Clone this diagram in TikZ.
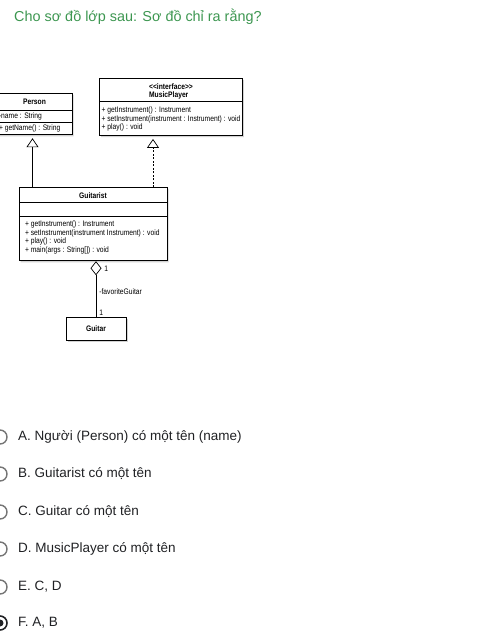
\documentclass[tikz,border=0pt]{standalone}
\usepackage{fontspec}
\setmainfont{Liberation Sans}
\newfontfamily\umlfont[FakeStretch=0.84]{Liberation Sans}
\usetikzlibrary{shapes.multipart,shadows,arrows.meta}
\definecolor{formgreen}{RGB}{60,150,80}
\definecolor{radiogray}{RGB}{117,117,117}
\definecolor{optext}{RGB}{32,33,36}
\newcommand{\tstrut}[1]{\rule{0pt}{#1pt}}
\newcommand{\bstrut}[1]{\rule[-#1pt]{0pt}{#1pt}}

\begin{document}
\begin{tikzpicture}[
        x                = 1pt,
        y                = -1pt,
        umlclass/.style  = {draw, fill=white, line width=0.8pt, rectangle split, rectangle split parts=3,
                            rectangle split part align={center,left,left}, align=left,
                            rectangle split empty part height=11pt,
                            font=\umlfont\fontsize{8}{8.5}\selectfont, inner xsep=2pt, inner ysep=1pt,
                            drop shadow={shadow xshift=1.5pt, shadow yshift=-1.5pt, fill=black!35}},
        umlbox/.style    = {draw, fill=white, line width=0.8pt, font=\umlfont\fontsize{8}{8.5}\selectfont,
                            drop shadow={shadow xshift=1.5pt, shadow yshift=-1.5pt, fill=black!35}},
        inherit/.style   = {draw, line width=0.7pt, shorten >=3pt, -{Triangle[open, length=9pt, width=12pt]}},
        realize/.style   = {inherit, dashed, dash pattern=on 2pt off 1.5pt},
        aggregate/.style = {draw, line width=0.7pt, -{Diamond[open, length=14pt, width=11pt]}},
        assoclabel/.style= {font=\umlfont\fontsize{8}{8.5}\selectfont, inner sep=1pt},
        radio/.style     = {draw=radiogray, line width=1.4pt},
        option/.style    = {anchor=west, text=optext, font=\fontsize{13.5}{16}\selectfont, inner sep=0pt}
    ]
    \useasboundingbox (0,0) rectangle (498,633);

    % question
    \node[anchor=west, text=formgreen, font=\fontsize{14.4}{17}\selectfont, inner sep=0pt] (question)
        at (14,17) {Cho sơ đồ lớp sau: Sơ đồ chỉ ra rằng?};

    % classes
    \node[umlclass, anchor=north, minimum width=75pt] (person) at (34.5,93)
        {\tstrut{10}\bstrut{4}\textbf{Person}
         \nodepart{two} \tstrut{7}\bstrut{2}-name : String
         \nodepart{three} \tstrut{7.5}\bstrut{2.5}+ getName() : String};
    \node[umlclass, anchor=north, minimum width=142pt, rectangle split parts=2] (musicplayer) at (171,78)
        {\fontsize{8}{7}\selectfont\tstrut{9.5}\textbf{<<interface>>}\\\bstrut{2.5}\textbf{MusicPlayer}
         \nodepart{two} \tstrut{9.5}+ getInstrument() : Instrument\\+ setInstrument(instrument : Instrument) : void\\
         \bstrut{4.5}+ play() : void};
    \node[umlclass, anchor=north, minimum width=148pt, inner xsep=6pt] (guitarist) at (93,187)
        {\tstrut{9.5}\bstrut{2.5}\textbf{Guitarist} \nodepart{two} \nodepart{three}
         \tstrut{9.5}+ getInstrument() : Instrument\\+ setInstrument(instrument Instrument) : void\\+ play() : void\\
         \bstrut{7}+ main(args : String[]) : void};
    \node[umlbox, anchor=north, minimum width=60pt, minimum height=23pt] (guitar) at (96,317) {\textbf{Guitar}};

    \coordinate (impl) at ([xshift=-18pt]musicplayer.south);

    % relations
    \draw[inherit] ([xshift=-2pt]person.south |- guitarist.north) -- ([xshift=-2pt]person.south);
    \draw[realize] (impl |- guitarist.north) -- (impl);
    \draw[aggregate] (guitar.north) -- (guitar.north |- guitarist.south)
        node[assoclabel, pos=0.08, anchor=west, xshift=2pt] (mult1) {1}
        node[assoclabel, pos=0.45, anchor=west, xshift=2pt] (role) {-favoriteGuitar}
        node[assoclabel, pos=0.86, anchor=west, xshift=7pt] (mult2) {1};

    % answers
    \foreach \n/\y/\txt in {a/437/{A. Người (Person) có một tên (name)},
                            b/474/{B. Guitarist có một tên},
                            c/512/{C. Guitar có một tên},
                            d/549/{D. MusicPlayer có một tên},
                            e/587/{E. C, D},
                            f/623/{F. A, B}}{
        \draw[radio] (0,\y) circle (7pt);
        \node[option] (opt-\n) at (18,\y) {\txt};
    }
    \draw[radio, draw=optext] (0,623) circle (7pt);
    \fill[optext] (0,623) circle (3.5pt);
\end{tikzpicture}
\end{document}
